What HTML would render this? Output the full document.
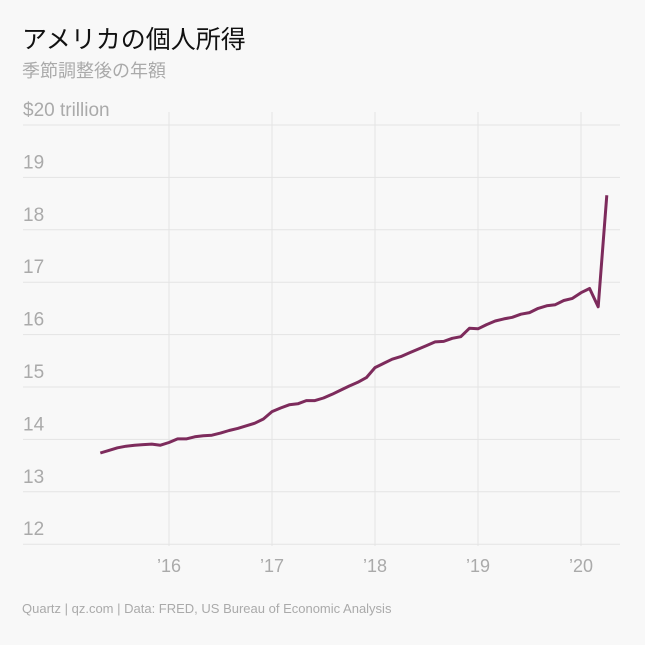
<!DOCTYPE html>
<html><head><meta charset="utf-8"><style>
body{margin:0;background:#f8f8f8;}
svg{display:block;font-family:"Liberation Sans","Noto Sans CJK JP",sans-serif;}
</style></head><body>
<svg id="chart" width="645" height="645" viewBox="0 0 645 645">
<rect width="645" height="645" fill="#f8f8f8"/>
<text x="22" y="48" font-size="25" fill="#111">アメリカの個人所得</text>
<text x="22" y="77" font-size="18" fill="#aaa">季節調整後の年額</text>
<g id="grid"></g>
<g id="axes"></g>
<path id="line" fill="none" stroke="#7d2b5c" stroke-width="3" stroke-linejoin="round"/>
<text x="22" y="613" font-size="13" fill="#aaa">Quartz | qz.com | Data: FRED, US Bureau of Economic Analysis</text>
</svg>
<script>
const yTicks = [12,13,14,15,16,17,18,19,20];
const yTickLabels = ["12","13","14","15","16","17","18","19","$20 trillion"];
const xTicks = [2016,2017,2018,2019,2020];
const xTickLabels = ["’16","’17","’18","’19","’20"];
const startYear = 2015, startMonth = 5;
const values = [13.74,13.79,13.84,13.87,13.89,13.90,13.91,13.89,
13.94,14.01,14.01,14.05,14.07,14.08,14.12,14.17,14.21,14.26,14.31,14.39,
14.53,14.60,14.66,14.68,14.74,14.74,14.79,14.86,14.94,15.02,15.09,15.18,
15.37,15.45,15.53,15.58,15.65,15.72,15.79,15.86,15.87,15.93,15.96,16.12,
16.11,16.19,16.26,16.30,16.33,16.39,16.42,16.50,16.55,16.57,16.65,16.69,
16.80,16.88,16.53,18.66];
const NS="http://www.w3.org/2000/svg";
function xs(t){return 169+(t-2016)*103;}
function ys(v){return 125+(20-v)*52.4;}
const grid=document.getElementById('grid'), axes=document.getElementById('axes');
yTicks.forEach((v,i)=>{
  const l=document.createElementNS(NS,'line');
  l.setAttribute('x1',23);l.setAttribute('x2',620);l.setAttribute('y1',ys(v));l.setAttribute('y2',ys(v));
  l.setAttribute('stroke','#e4e4e4');l.setAttribute('stroke-width',1);
  
  
  grid.appendChild(l);
  const t=document.createElementNS(NS,'text');
  t.setAttribute('x',23);t.setAttribute('y',ys(v)-9);t.setAttribute('font-size',19);t.setAttribute('fill','#aaa');
  t.textContent=yTickLabels[i];
  
  
  axes.appendChild(t);
});
xTicks.forEach((v,i)=>{
  const l=document.createElementNS(NS,'line');
  l.setAttribute('x1',xs(v));l.setAttribute('x2',xs(v));l.setAttribute('y1',112);l.setAttribute('y2',546);
  l.setAttribute('stroke','#e4e4e4');l.setAttribute('stroke-width',1);
  
  
  grid.appendChild(l);
  const t=document.createElementNS(NS,'text');
  t.setAttribute('x',xs(v));t.setAttribute('y',572);t.setAttribute('font-size',18);t.setAttribute('fill','#aaa');
  t.setAttribute('text-anchor','middle');
  t.textContent=xTickLabels[i];
  
  
  axes.appendChild(t);
});
let d='';
values.forEach((v,i)=>{
  const t=startYear+(startMonth-1+i)/12;
  d+=(i?'L':'M')+xs(t).toFixed(1)+','+ys(v).toFixed(1);
});
document.getElementById('line').setAttribute('d',d);
</script>
</body></html>
